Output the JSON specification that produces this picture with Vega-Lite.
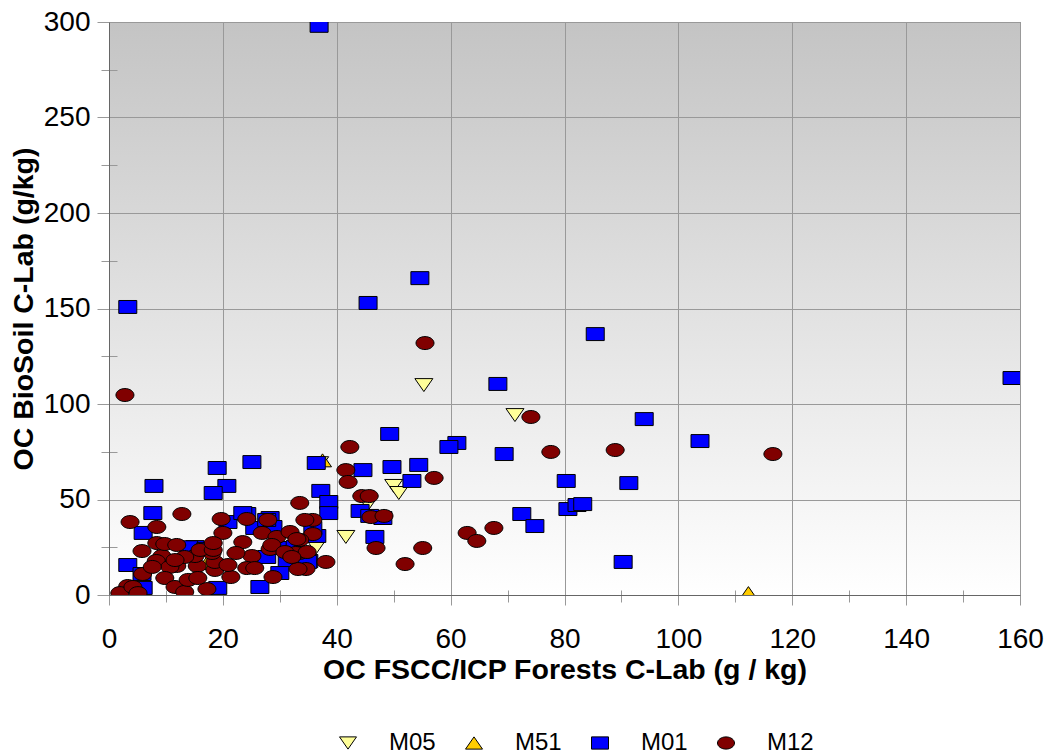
{
  "$schema": "https://vega.github.io/schema/vega-lite/v6.json",
  "width": 911,
  "height": 573,
  "autosize": "none",
  "padding": {"left": 109, "top": 22, "right": 28, "bottom": 161},
  "background": "white",
  "view": {
    "stroke": "#666666",
    "strokeWidth": 1,
    "fill": {"gradient": "linear", "x1": 0, "y1": 0, "x2": 0, "y2": 1,
      "stops": [{"offset": 0, "color": "#c4c4c4"}, {"offset": 1, "color": "#ffffff"}]}
  },
  "config": {
    "font": "Liberation Sans",
    "axis": {"labelFont": "Liberation Sans", "titleFont": "Liberation Sans", "labelColor": "black", "titleColor": "black"},
    "legend": {"labelFont": "Liberation Sans", "labelColor": "black"}
  },
  "data": {"values": [
    {"series": "M05", "x": 55.3, "y": 109.9},
    {"series": "M05", "x": 71.3, "y": 94.2},
    {"series": "M05", "x": 50.0, "y": 57.1},
    {"series": "M05", "x": 50.9, "y": 53.4},
    {"series": "M05", "x": 41.6, "y": 30.4},
    {"series": "M05", "x": 37.0, "y": 69.0},
    {"series": "M05", "x": 45.5, "y": 47.6},
    {"series": "M05", "x": 36.4, "y": 25.0},
    {"series": "M51", "x": 112.3, "y": 1.0},
    {"series": "M51", "x": 37.5, "y": 70.5},
    {"series": "M51", "x": 17.2, "y": 16.8},
    {"series": "M01", "x": 36.9, "y": 298},
    {"series": "M01", "x": 3.3, "y": 150.8},
    {"series": "M01", "x": 45.5, "y": 152.9},
    {"series": "M01", "x": 54.6, "y": 165.9},
    {"series": "M01", "x": 85.4, "y": 136.6},
    {"series": "M01", "x": 68.3, "y": 110.5},
    {"series": "M01", "x": 158.6, "y": 113.6},
    {"series": "M01", "x": 94.0, "y": 92.1},
    {"series": "M01", "x": 103.8, "y": 80.6},
    {"series": "M01", "x": 61.1, "y": 79.6},
    {"series": "M01", "x": 59.7, "y": 77.5},
    {"series": "M01", "x": 49.3, "y": 84.3},
    {"series": "M01", "x": 69.4, "y": 73.8},
    {"series": "M01", "x": 54.4, "y": 68.1},
    {"series": "M01", "x": 49.7, "y": 67.0},
    {"series": "M01", "x": 44.6, "y": 65.4},
    {"series": "M01", "x": 36.4, "y": 69.1},
    {"series": "M01", "x": 80.3, "y": 59.7},
    {"series": "M01", "x": 91.3, "y": 58.6},
    {"series": "M01", "x": 25.1, "y": 69.6},
    {"series": "M01", "x": 19.0, "y": 66.5},
    {"series": "M01", "x": 7.9, "y": 57.1},
    {"series": "M01", "x": 20.7, "y": 57.1},
    {"series": "M01", "x": 37.2, "y": 54.5},
    {"series": "M01", "x": 18.3, "y": 53.4},
    {"series": "M01", "x": 38.6, "y": 48.7},
    {"series": "M01", "x": 53.2, "y": 59.7},
    {"series": "M01", "x": 38.6, "y": 42.9},
    {"series": "M01", "x": 44.1, "y": 44.0},
    {"series": "M01", "x": 45.8, "y": 41.4},
    {"series": "M01", "x": 48.1, "y": 40.3},
    {"series": "M01", "x": 46.7, "y": 30.4},
    {"series": "M01", "x": 36.5, "y": 30.9},
    {"series": "M01", "x": 35.1, "y": 17.8},
    {"series": "M01", "x": 72.5, "y": 42.4},
    {"series": "M01", "x": 74.8, "y": 36.1},
    {"series": "M01", "x": 80.6, "y": 45.0},
    {"series": "M01", "x": 82.2, "y": 47.1},
    {"series": "M01", "x": 83.2, "y": 47.6},
    {"series": "M01", "x": 90.3, "y": 17.3},
    {"series": "M01", "x": 7.7, "y": 42.9},
    {"series": "M01", "x": 6.0, "y": 32.5},
    {"series": "M01", "x": 3.3, "y": 15.7},
    {"series": "M01", "x": 5.8, "y": 11.0},
    {"series": "M01", "x": 6.0, "y": 3.7},
    {"series": "M01", "x": 15.1, "y": 25.1},
    {"series": "M01", "x": 24.2, "y": 42.4},
    {"series": "M01", "x": 28.3, "y": 40.3},
    {"series": "M01", "x": 28.8, "y": 35.6},
    {"series": "M01", "x": 20.9, "y": 38.2},
    {"series": "M01", "x": 25.6, "y": 35.1},
    {"series": "M01", "x": 30.4, "y": 24.6},
    {"series": "M01", "x": 31.3, "y": 18.3},
    {"series": "M01", "x": 30.0, "y": 11.5},
    {"series": "M01", "x": 26.5, "y": 4.2},
    {"series": "M01", "x": 19.1, "y": 3.7},
    {"series": "M01", "x": 34.9, "y": 17.3},
    {"series": "M01", "x": 32.7, "y": 25.1},
    {"series": "M01", "x": 35.8, "y": 35.1},
    {"series": "M01", "x": 27.7, "y": 19.9},
    {"series": "M01", "x": 23.5, "y": 42.9},
    {"series": "M01", "x": 27.7, "y": 39.3},
    {"series": "M01", "x": 14.0, "y": 25.0},
    {"series": "M01", "x": 17.0, "y": 24.0},
    {"series": "M12", "x": 55.5, "y": 131.9},
    {"series": "M12", "x": 74.1, "y": 93.2},
    {"series": "M12", "x": 77.6, "y": 74.9},
    {"series": "M12", "x": 88.9, "y": 75.9},
    {"series": "M12", "x": 42.3, "y": 77.5},
    {"series": "M12", "x": 41.6, "y": 65.4},
    {"series": "M12", "x": 42.0, "y": 59.2},
    {"series": "M12", "x": 44.4, "y": 51.8},
    {"series": "M12", "x": 45.7, "y": 51.8},
    {"series": "M12", "x": 57.1, "y": 61.3},
    {"series": "M12", "x": 33.5, "y": 48.2},
    {"series": "M12", "x": 35.8, "y": 39.3},
    {"series": "M12", "x": 34.4, "y": 39.3},
    {"series": "M12", "x": 35.8, "y": 31.9},
    {"series": "M12", "x": 46.0, "y": 40.8},
    {"series": "M12", "x": 48.3, "y": 41.4},
    {"series": "M12", "x": 46.9, "y": 24.6},
    {"series": "M12", "x": 55.1, "y": 24.6},
    {"series": "M12", "x": 38.1, "y": 17.3},
    {"series": "M12", "x": 34.6, "y": 13.6},
    {"series": "M12", "x": 52.0, "y": 16.2},
    {"series": "M12", "x": 62.9, "y": 32.5},
    {"series": "M12", "x": 64.6, "y": 28.3},
    {"series": "M12", "x": 67.6, "y": 35.1},
    {"series": "M12", "x": 33.5, "y": 28.8},
    {"series": "M12", "x": 33.5, "y": 22.0},
    {"series": "M12", "x": 2.8, "y": 104.7},
    {"series": "M12", "x": 116.6, "y": 73.8},
    {"series": "M12", "x": 3.7, "y": 38.2},
    {"series": "M12", "x": 12.8, "y": 42.4},
    {"series": "M12", "x": 8.4, "y": 35.6},
    {"series": "M12", "x": 19.7, "y": 39.8},
    {"series": "M12", "x": 24.2, "y": 39.8},
    {"series": "M12", "x": 27.9, "y": 39.3},
    {"series": "M12", "x": 20.0, "y": 32.5},
    {"series": "M12", "x": 23.5, "y": 27.7},
    {"series": "M12", "x": 26.9, "y": 32.5},
    {"series": "M12", "x": 29.5, "y": 30.4},
    {"series": "M12", "x": 31.8, "y": 33.0},
    {"series": "M12", "x": 33.0, "y": 29.3},
    {"series": "M12", "x": 28.3, "y": 24.1},
    {"series": "M12", "x": 25.1, "y": 20.4},
    {"series": "M12", "x": 32.8, "y": 22.0},
    {"series": "M12", "x": 28.8, "y": 9.4},
    {"series": "M12", "x": 21.4, "y": 9.4},
    {"series": "M12", "x": 24.2, "y": 14.1},
    {"series": "M12", "x": 25.6, "y": 14.1},
    {"series": "M12", "x": 18.6, "y": 13.1},
    {"series": "M12", "x": 18.6, "y": 17.3},
    {"series": "M12", "x": 20.9, "y": 15.7},
    {"series": "M12", "x": 22.3, "y": 22.0},
    {"series": "M12", "x": 18.1, "y": 22.0},
    {"series": "M12", "x": 15.5, "y": 15.2},
    {"series": "M12", "x": 11.9, "y": 15.2},
    {"series": "M12", "x": 9.3, "y": 20.4},
    {"series": "M12", "x": 5.8, "y": 23.0},
    {"series": "M12", "x": 8.4, "y": 27.2},
    {"series": "M12", "x": 9.8, "y": 26.7},
    {"series": "M12", "x": 11.9, "y": 26.2},
    {"series": "M12", "x": 8.3, "y": 17.8},
    {"series": "M12", "x": 10.7, "y": 14.7},
    {"series": "M12", "x": 5.9, "y": 11.0},
    {"series": "M12", "x": 9.8, "y": 8.9},
    {"series": "M12", "x": 11.6, "y": 4.2},
    {"series": "M12", "x": 13.3, "y": 1.6},
    {"series": "M12", "x": 17.2, "y": 3.1},
    {"series": "M12", "x": 3.3, "y": 4.7},
    {"series": "M12", "x": 1.9, "y": 1.0},
    {"series": "M12", "x": 4.2, "y": 4.2},
    {"series": "M12", "x": 5.1, "y": 1.0},
    {"series": "M12", "x": 15.1, "y": 20.4},
    {"series": "M12", "x": 16.0, "y": 23.6},
    {"series": "M12", "x": 18.3, "y": 23.6},
    {"series": "M12", "x": 18.3, "y": 27.2},
    {"series": "M12", "x": 13.3, "y": 19.9},
    {"series": "M12", "x": 11.6, "y": 18.3},
    {"series": "M12", "x": 7.6, "y": 14.7},
    {"series": "M12", "x": 13.9, "y": 7.9},
    {"series": "M12", "x": 15.6, "y": 8.9},
    {"series": "M12", "x": 28.6, "y": 26.2},
    {"series": "M12", "x": 30.9, "y": 22.5},
    {"series": "M12", "x": 34.8, "y": 22.5},
    {"series": "M12", "x": 33.2, "y": 13.6},
    {"series": "M12", "x": 32.1, "y": 19.9}
  ]},
  "layer": [
    {
      "mark": {"type": "point", "opacity": 0},
      "encoding": {
        "x": {"field": "x", "type": "quantitative",
          "scale": {"domain": [0, 160], "nice": false, "zero": false},
          "axis": {"orient": "bottom", "values": [10, 30, 50, 70, 90, 110, 130, 150], "labels": false, "domain": false, "grid": false, "ticks": true, "tickSize": 12, "offset": -5, "tickColor": "#999999", "title": null}},
        "y": {"field": "y", "type": "quantitative",
          "scale": {"domain": [0, 300], "nice": false, "zero": false},
          "axis": {"orient": "left", "values": [25, 75, 125, 175, 225, 275], "labels": false, "domain": false, "grid": false, "ticks": true, "tickSize": 16, "offset": -8, "tickColor": "#999999", "title": null}}
      }
    },
    {
      "mark": {"type": "point", "filled": true, "opacity": 1, "stroke": "black", "strokeWidth": 1, "size": 324, "clip": true},
      "encoding": {
        "x": {"field": "x", "type": "quantitative",
          "scale": {"domain": [0, 160], "nice": false, "zero": false},
          "axis": {"orient": "bottom", "values": [0, 20, 40, 60, 80, 100, 120, 140, 160], "grid": true, "gridColor": "#999999", "gridWidth": 1, "domainColor": "#666666", "tickColor": "#999999", "tickSize": 10, "labelPadding": 20, "labelFontSize": 28, "labelFlush": false, "labelOverlap": false,
            "title": "OC FSCC/ICP Forests C-Lab (g / kg)", "titleFontSize": 28.5, "titleFontWeight": "bold", "titleBaseline": "alphabetic", "titleY": 83}},
        "y": {"field": "y", "type": "quantitative",
          "scale": {"domain": [0, 300], "nice": false, "zero": false},
          "axis": {"orient": "left", "values": [0, 50, 100, 150, 200, 250, 300], "grid": true, "gridColor": "#999999", "gridWidth": 1, "domainColor": "#666666", "tickColor": "#999999", "tickSize": 12, "labelPadding": 7, "labelFontSize": 28, "labelFlush": false, "labelOverlap": false,
            "title": "OC BioSoil C-Lab (g/kg)", "titleFontSize": 28.5, "titleFontWeight": "bold", "titleBaseline": "alphabetic", "titleX": -77}},
        "color": {"field": "series", "type": "nominal",
          "scale": {"domain": ["M05", "M51", "M01", "M12"], "range": ["#ffff99", "#ffcc00", "#0000ff", "#800000"]},
          "legend": {"orient": "none", "legendX": 227, "legendY": 709, "direction": "horizontal", "columns": 4, "title": null, "padding": 0, "labelFontSize": 24, "symbolSize": 289, "labelOffset": 29, "columnPadding": 26, "symbolStrokeColor": "black", "symbolStrokeWidth": 1, "symbolOpacity": 1,
            "encode": {"symbols": {"update": {"stroke": {"value": "black"}, "strokeWidth": {"value": 1}, "size": {"value": 289}}}}}},
        "shape": {"field": "series", "type": "nominal",
          "scale": {"domain": ["M05", "M51", "M01", "M12"], "range": ["M-1,-0.72L1,-0.72L0,0.72Z", "M0,-0.72L1,0.72L-1,0.72Z", "M-1,-0.72L1,-0.72L1,0.72L-1,0.72Z", "M-1,0A1,0.72 0 1,0 1,0A1,0.72 0 1,0 -1,0Z"]},
          "legend": {"orient": "none", "legendX": 227, "legendY": 709, "direction": "horizontal", "columns": 4, "title": null, "padding": 0, "labelFontSize": 24, "symbolSize": 289, "labelOffset": 29, "columnPadding": 26, "symbolStrokeColor": "black", "symbolStrokeWidth": 1, "symbolOpacity": 1,
            "encode": {"symbols": {"update": {"stroke": {"value": "black"}, "strokeWidth": {"value": 1}, "size": {"value": 289}}}}}}
      }
    }
  ],
  "resolve": {"axis": {"x": "independent", "y": "independent"}}
}
